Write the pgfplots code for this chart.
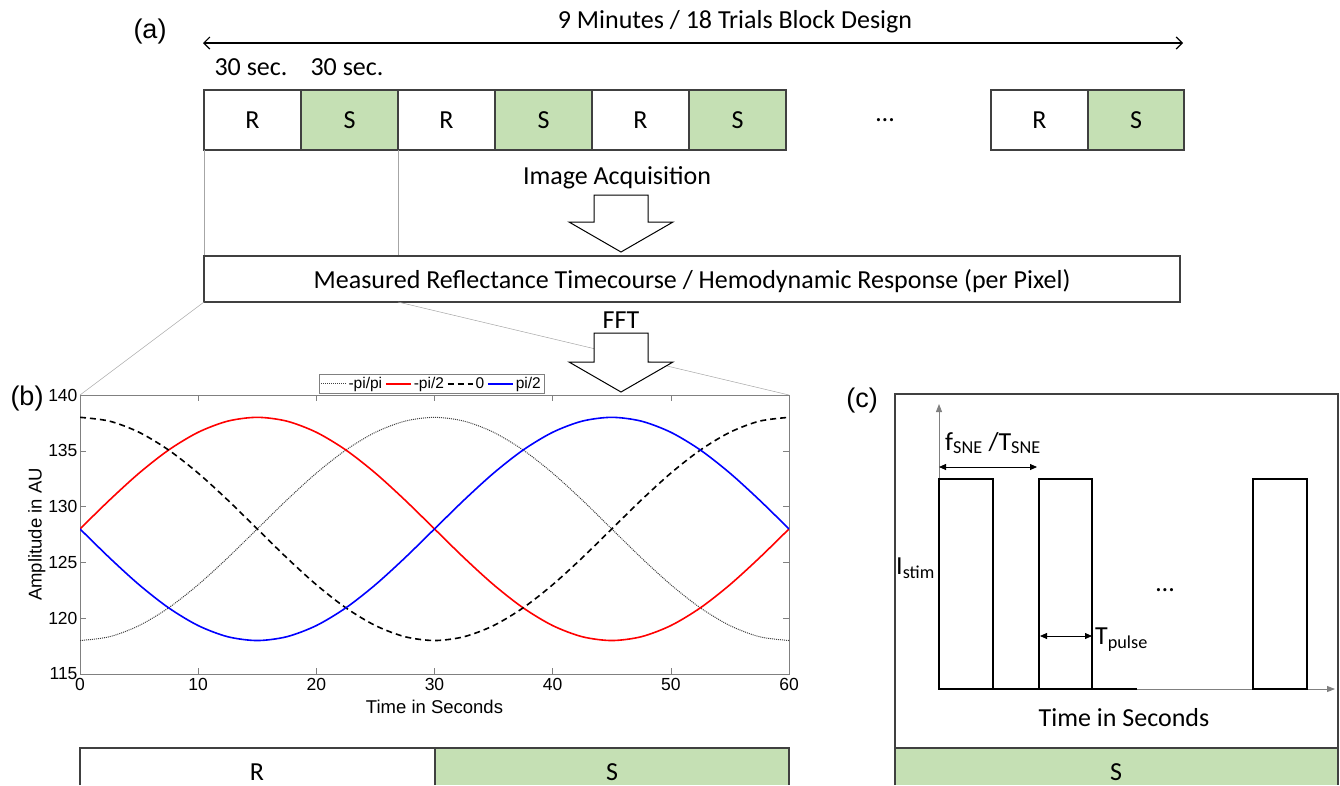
\documentclass[border=0pt]{standalone}
\usepackage{pgfplots}
\pgfplotsset{compat=1.18}
\usepackage{pgfplotstable}
\usepackage{fontspec}
\setmainfont{Carlito}
\newfontfamily\arial{Liberation Sans}
\usetikzlibrary{arrows.meta}
\definecolor{sg}{HTML}{C5E0B4}
\definecolor{bd}{HTML}{404040}

\pgfplotstableread{
t    pp      mh      z       ph
0    118.000 128.000 138.000 128.000
2.5  118.341 130.588 137.659 125.412
5    119.340 133.000 136.660 123.000
7.5  120.929 135.071 135.071 120.929
10   123.000 136.660 133.000 119.340
12.5 125.412 137.659 130.588 118.341
15   128.000 138.000 128.000 118.000
17.5 130.588 137.659 125.412 118.341
20   133.000 136.660 123.000 119.340
22.5 135.071 135.071 120.929 120.929
25   136.660 133.000 119.340 123.000
27.5 137.659 130.588 118.341 125.412
30   138.000 128.000 118.000 128.000
32.5 137.659 125.412 118.341 130.588
35   136.660 123.000 119.340 133.000
37.5 135.071 120.929 120.929 135.071
40   133.000 119.340 123.000 136.660
42.5 130.588 118.341 125.412 137.659
45   128.000 118.000 128.000 138.000
47.5 125.412 118.341 130.588 137.659
50   123.000 119.340 133.000 136.660
52.5 120.929 120.929 135.071 135.071
55   119.340 123.000 136.660 133.000
57.5 118.341 125.412 137.659 130.588
60   118.000 128.000 138.000 128.000
}\curves

\begin{document}
\begin{tikzpicture}
\begin{scope}[x=1pt,y=-1pt]
\path[use as bounding box] (0,0) rectangle (1340,785);
\tikzset{cal/.style={font=\fontsize{26}{26}\selectfont, inner sep=0pt},
  bx/.style={draw=bd, line width=1.3pt}}
% ---------- (a)
\node[font=\arial\fontsize{27}{27}\selectfont, inner sep=0pt] at (150,32) {(a)};
\node[cal] at (735,22) {9 Minutes / 18 Trials Block Design};
\draw[{Straight Barb[length=6pt,width=12pt]}-{Straight Barb[length=6pt,width=12pt]}, line width=1.2pt] (203,43) -- (1183,43);
\node[cal] at (251,67) {30 sec.};
\node[cal] at (347,67) {30 sec.};
\foreach \xa/\xb/\c/\lab in {204/301/white/R, 301/398/sg/S, 398/495/white/R, 495/592/sg/S, 592/689/white/R, 689/786/sg/S, 991/1088/white/R, 1088/1184/sg/S}{
  \draw[bx, fill=\c] (\xa,90) rectangle (\xb,150);
  \node[cal] at ({(\xa+\xb)/2},120) {\lab};
}
\node[cal] at (885,120) {\ldots};
\draw[gray!70, line width=0.5pt] (204,150) -- (204,256);
\draw[gray!70, line width=0.5pt] (398,150) -- (398,256);
\node[cal] at (617,178) {Image Acquisition};
\draw[line width=1pt, fill=white] (594,195) -- (648,195) -- (648,222) -- (673,222) -- (621,252) -- (569,222) -- (594,222) -- cycle;
\draw[bx, fill=white] (204,256) rectangle (1180,302);
\node[cal] at (692,281) {Measured Reflectance Timecourse / Hemodynamic Response (per Pixel)};
\draw[gray!70, line width=0.5pt] (204,302) -- (80,395);
\draw[gray!70, line width=0.5pt] (398,302) -- (789,395);
\node[cal] at (621,320) {FFT};
\draw[line width=1pt, fill=white] (594,333) -- (648,333) -- (648,362) -- (673,362) -- (621,392) -- (569,362) -- (594,362) -- cycle;
% ---------- (b)
\node[font=\arial\fontsize{27}{27}\selectfont, inner sep=0pt] at (27,399) {(b)};
\draw[bx, fill=white] (80,785) -- (80,748) -- (435,748) -- (435,785);
\fill[sg] (435,748) rectangle (789,785);
\draw[bx] (435,785) -- (435,748) -- (789,748) -- (789,785);
\node[cal] at (257,772) {R};
\node[cal] at (612,772) {S};
% ---------- (c)
\node[font=\arial\fontsize{27}{27}\selectfont, inner sep=0pt] at (862,401) {(c)};
\draw[bx] (895,394) rectangle (1338,748);
\fill[sg] (895,748) rectangle (1338,785);
\draw[bx] (895,785) -- (895,748) -- (1338,748) -- (1338,785);
\node[cal] at (1116,772) {S};
\draw[gray, line width=0.8pt, -{Triangle[length=8pt,width=6pt]}] (939,689) -- (939,404);
\draw[gray, line width=0.8pt, -{Triangle[length=8pt,width=6pt]}] (1137,689) -- (1335,689);
\draw[black, line width=1.6pt] (939,689) -- (1137,689);
\draw[black, line width=1.6pt] (939,689) rectangle (993,479);
\draw[black, line width=1.6pt] (1039,689) rectangle (1092,479);
\draw[black, line width=1.6pt] (1253,689) rectangle (1307,479);
\draw[black, line width=0.8pt, {Triangle[length=7pt,width=6pt]}-{Triangle[length=7pt,width=6pt]}] (939,467) -- (1037,467);
\node[cal, font=\fontsize{26}{26}\selectfont, anchor=west] at (945,443) {f\textsubscript{SNE} /T\textsubscript{SNE}};
\node[cal, font=\fontsize{26}{26}\selectfont, anchor=west] at (896,568) {I\textsubscript{stim}};
\draw[black, line width=0.8pt, {Triangle[length=7pt,width=6pt]}-{Triangle[length=7pt,width=6pt]}] (1040,636) -- (1092,636);
\node[cal, font=\fontsize{26}{26}\selectfont, anchor=west] at (1095,640) {T\textsubscript{pulse}};
\node[cal] at (1165,590) {\ldots};
\node[cal] at (1124,718) {Time in Seconds};
\end{scope}
\begin{axis}[at={(80pt,-674pt)}, anchor=south west, width=709pt, height=279pt, scale only axis,
  xmin=0, xmax=60, ymin=115, ymax=140,
  xtick={0,10,...,60}, ytick={115,120,...,140},
  axis line style={gray}, tick style={gray, line width=0.6pt}, tick align=inside,
  major tick length=6pt,
  /pgf/number format/assume math mode=true,
  ticklabel style={font=\arial\fontsize{17.5}{17.5}\selectfont},
  xticklabel style={yshift=-1pt},
  yticklabel style={xshift=1pt},
  label style={font=\arial\fontsize{18.5}{18.5}\selectfont},
  xlabel={Time in Seconds}, ylabel={Amplitude in AU},
  xlabel style={yshift=-2pt}, ylabel style={yshift=-4pt},
  legend columns=4,
  legend style={at={(0.496,1.006)}, anchor=south, font=\arial\fontsize{15.5}{15.5}\selectfont,
    draw=gray, inner sep=1pt, /tikz/every even column/.append style={column sep=1pt}},
  legend image code/.code={\draw[#1] (0pt,0pt) -- (25pt,0pt);},
  ]
\addplot[black!75, densely dotted, line width=1pt, smooth] table[x=t,y=pp] {\curves};
\addlegendentry{-pi/pi}
\addplot[red, line width=1.6pt, smooth] table[x=t,y=mh] {\curves};
\addlegendentry{-pi/2}
\addplot[black, dash pattern=on 6pt off 4pt, line width=1.6pt, smooth] table[x=t,y=z] {\curves};
\addlegendentry{0}
\addplot[blue, line width=1.6pt, smooth] table[x=t,y=ph] {\curves};
\addlegendentry{pi/2}
\end{axis}
\end{tikzpicture}
\end{document}
